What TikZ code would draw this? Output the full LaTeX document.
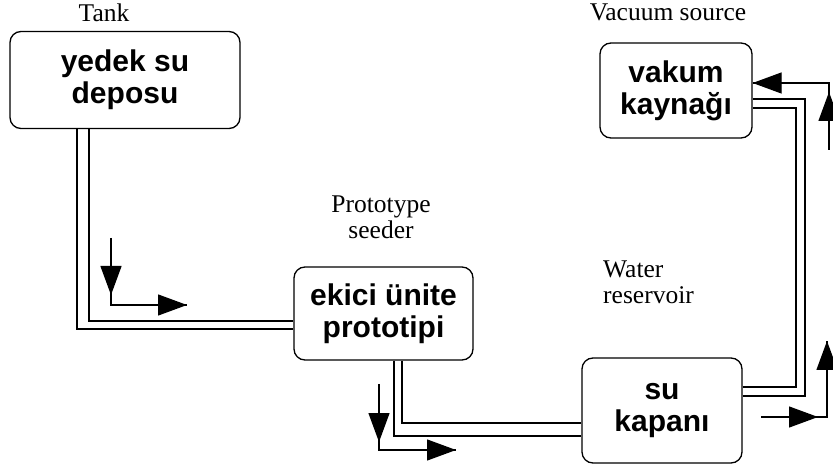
\documentclass[tikz,border=0pt]{standalone}
\usepackage{fontspec}
\setmainfont{Liberation Serif}
\newfontfamily\boxfont{Liberation Sans}
\usetikzlibrary{arrows.meta,calc}
\tikzset{
  unit/.style={draw, line width=1.3pt, rounded corners=11pt, inner sep=0pt, align=center,
    font=\boxfont\bfseries\fontsize{30}{32}\selectfont},
  lbl/.style={inner sep=0pt, font=\fontsize{25.5}{26}\selectfont},
  pipe/.style={line width=1.3pt},
  flow/.style={line width=1.3pt},
  tip/.style={line width=1.3pt, -{Triangle[length=29pt,width=21pt]}},
}
\begin{document}
\begin{tikzpicture}[x=1pt,y=-1pt]
\useasboundingbox (0,0) rectangle (833,470);
% boxes
\node[unit, minimum width=230pt, minimum height=97pt] (tank) at (125,80) {yedek su\\deposu};
\node[unit, minimum width=179pt, minimum height=93pt] (seed) at (383.5,313.5) {ekici ünite\\prototipi};
\node[unit, minimum width=160pt, minimum height=105pt] (trap) at (662,410.5) {su\\kapanı};
\node[unit, minimum width=152pt, minimum height=95pt] (vac) at (676,90.5) {vakum\\kaynağı};
% labels
\node[lbl, anchor=base] (ltank) at (104,22) {Tank};
\node[lbl, anchor=base] (lvac) at (668,21) {Vacuum source};
\node[lbl, align=center, anchor=north] (lseed) at (381,196) {Prototype\\seeder};
\node[lbl, align=left, anchor=north west] (ltrap) at (603,261) {Water\\reservoir};
% pipe tank -> seeder
\coordinate (t1) at (89,128.5); \coordinate (t2) at (77,128.5);
\draw[pipe] (t1) |- (seed.west |- 0,321);
\draw[pipe] (t2) |- (seed.west |- 0,329);
% pipe seeder -> trap
\draw[pipe] (seed.south -| 402,0) |- (trap.west |- 0,423);
\draw[pipe] (seed.south -| 394,0) |- (trap.west |- 0,436);
% pipe trap -> vacuum
\draw[pipe] (trap.east |- 0,387) -| (796,108) -- (vac.east |- 0,108);
\draw[pipe] (trap.east |- 0,396) -| (805,99) -- (vac.east |- 0,99);
% flow arrows
\coordinate (a1s) at (111,238); \coordinate (a1c) at (111,305); \coordinate (a1e) at (187,305);
\draw[flow] (a1s) -- (a1c) -- (a1e);
\draw[tip] (111,255) -- (111,295);
\draw[tip] (150,305) -- (a1e);
\coordinate (a2s) at (379,384); \coordinate (a2c) at (379,450); \coordinate (a2e) at (456,450);
\draw[flow] (a2s) -- (a2c) -- (a2e);
\draw[tip] (379,400) -- (379,442);
\draw[tip] (420,450) -- (a2e);
\coordinate (a3s) at (761,417); \coordinate (a3c) at (827,417); \coordinate (a3e) at (827,341);
\draw[flow] (a3s) -- (a3c) -- (a3e);
\draw[tip] (770,417) -- (818,417);
\draw[tip] (827,380) -- (a3e);
\coordinate (a4s) at (829,150); \coordinate (a4c) at (829,83); \coordinate (a4e) at (vac.east |- 0,83);
\draw[flow] (a4s) -- (a4c) -- (a4e);
\draw[tip] (829,140) -- (829,92);
\draw[tip] (800,83) -- (a4e);
\end{tikzpicture}
\end{document}
